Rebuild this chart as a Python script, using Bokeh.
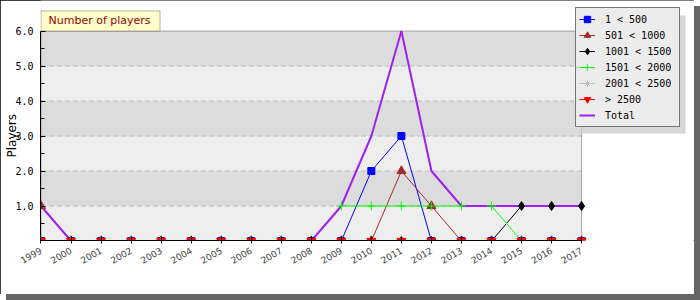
import math
from bokeh.plotting import figure
from bokeh.models import (Range1d, FixedTicker, PrintfTickFormatter, Legend, LegendItem,
                          BoxAnnotation, Label)
from bokeh.embed import file_html
from bokeh.resources import INLINE

years = list(range(1999, 2018))
s_lt500 = [0, 0, 0, 0, 0, 0, 0, 0, 0, 0, 0, 2, 3, 0, 0, 0, 0, 0, 0]
s_501_1000 = [1, 0, 0, 0, 0, 0, 0, 0, 0, 0, 0, 0, 2, 1, 0, 0, 0, 0, 0]
s_1001_1500 = [0, 0, 0, 0, 0, 0, 0, 0, 0, 0, 0, 0, 0, 0, 0, 0, 1, 1, 1]
s_1501_2000 = [0, 0, 0, 0, 0, 0, 0, 0, 0, 0, 1, 1, 1, 1, 1, 1, 0, 0, 0]
s_2001_2500 = [0] * 19
s_gt2500 = [0] * 19
total = [1, 0, 0, 0, 0, 0, 0, 0, 0, 0, 1, 3, 6, 2, 1, 1, 1, 1, 1]

series_labels = ["1 < 500", "501 < 1000", "1001 < 1500", "1501 < 2000", "2001 < 2500", "> 2500"]
series_values = [s_lt500, s_501_1000, s_1001_1500, s_1501_2000, s_2001_2500, s_gt2500]
series_colors = ["#0000ff", "#a52a2a", "#000000", "#00ff00", "#bbbbbb", "#ff0000"]
series_markers = ["square", "triangle", "diamond", "cross", "asterisk", "inverted_triangle"]
series_sizes = [7, 9, 9, 9, 9, 9]
y_ticks = [1, 2, 3, 4, 5, 6]
y_minor = [0.5, 1.5, 2.5, 3.5, 4.5, 5.5]
band_edges = [(1, 2), (3, 4), (5, 6)]

X0, X1, Y0, Y1 = years[0], years[-1], 0, 6

# layout (pixels): plot area 40..581 x 30..240 inside a 694x294 canvas
W, H = 694, 294
PL, PR, PT, PB = 40, 581, 30, 240
xpx = (PR - PL) / (X1 - X0)
ypx = (PB - PT) / (Y1 - Y0)
# half-pixel shift so that horizontal/vertical lines land on pixel centres
x_start = X0 - 0.5 / xpx
y_start = Y0 + 0.5 / ypx
x_end = X1 + (W - PR) / xpx
y_end = Y1 + PT / ypx + 0.5 / ypx

p = figure(width=W, height=H, output_backend="svg", toolbar_location=None,
           x_range=Range1d(x_start, x_end), y_range=Range1d(y_start, y_end),
           min_border_left=PL, min_border_right=0, min_border_top=0, min_border_bottom=H - PB)
p.styles = {"outline": "1px solid black", "outline-offset": "-1px",
            "box-shadow": "6px 6px 0px 0px #666666"}
p.border_fill_color = "white"
p.background_fill_color = "white"
p.outline_line_color = None
p.xgrid.visible = False
p.ygrid.visible = False

# plot-area background bands
p.add_layout(BoxAnnotation(left=X0, right=X1, bottom=Y0, top=Y1, fill_color="#eeeeee", fill_alpha=1,
                           line_color=None, level="underlay"))
for lo, hi in band_edges:
    p.add_layout(BoxAnnotation(left=X0, right=X1, bottom=lo, top=hi, fill_color="#dcdcdc", fill_alpha=1,
                               line_color=None, level="underlay"))
# dashed grid lines
gy = y_ticks[:-1]
p.segment(x0=[X0] * len(gy), x1=[X1] * len(gy), y0=gy, y1=gy, line_color="#bbbbbb",
          line_dash="5 3", line_width=1)

# series lines, total line, then markers
line_rs = []
for vals, col in zip(series_values, series_colors):
    line_rs.append(p.line(years, vals, line_color=col, line_width=1))
total_r = p.line(years, total, line_color="#a020f0", line_width=2)
mark_rs = []
for vals, col, mk, sz in zip(series_values, series_colors, series_markers, series_sizes):
    mark_rs.append(p.scatter(years, vals, marker=mk, size=sz, fill_color=col, line_color=col))

# plot-area outline
p.add_layout(BoxAnnotation(left=X0, right=X1, bottom=Y0, top=Y1, fill_alpha=0, fill_color=None,
                           line_color="black", line_width=1))

# axes
yax = p.yaxis[0]
yax.bounds = (Y0, Y1)
yax.ticker = FixedTicker(ticks=y_ticks, minor_ticks=y_minor)
yax.formatter = PrintfTickFormatter(format="%.1f")
yax.major_label_text_font = "DejaVu Sans Mono"
yax.major_label_text_font_size = "10px"
yax.major_label_text_color = "black"
yax.major_tick_in = 5
yax.major_tick_out = 0
yax.minor_tick_in = 4
yax.minor_tick_out = 0
yax.major_label_standoff = 7
yax.axis_label = "Players" + "\u00a0" * 8
yax.axis_label_text_font = "DejaVu Sans"
yax.axis_label_text_font_size = "12px"
yax.axis_label_text_font_style = "normal"
yax.axis_label_text_color = "black"
yax.axis_label_standoff = -7
yax.axis_line_color = "black"

xax = p.xaxis[0]
xax.bounds = (X0, X1)
xax.ticker = FixedTicker(ticks=years)
xax.formatter = PrintfTickFormatter(format="%d")
xax.major_label_orientation = math.pi / 6
xax.major_label_text_font = "DejaVu Sans"
xax.major_label_text_font_size = "9px"
xax.major_label_text_color = "#444444"
xax.major_tick_in = 4
xax.major_tick_out = 3
xax.minor_tick_line_color = None
xax.major_label_standoff = 6
xax.axis_line_color = "black"


def cbox(l, t, r, b, **kw):
    return BoxAnnotation(left=l, right=r, top=t, bottom=b, left_units="canvas", right_units="canvas",
                         top_units="canvas", bottom_units="canvas", **kw)


# title tab
p.add_layout(cbox(40.5, 10.5, 159.5, 30.5, fill_color="#ffffcc", fill_alpha=1, line_color="black", line_width=1))
p.add_layout(Label(x=8, y=PB - 20, x_units="screen", y_units="screen", text="Number of players",
                   text_font="DejaVu Sans", text_font_size="11px", text_color="#990000",
                   text_baseline="middle", text_align="left"))

# legend shadow + legend
p.add_layout(cbox(581, 15, 685, 133, fill_color="#d6d6d6", fill_alpha=1, line_color=None))
items = [LegendItem(label=lab, renderers=[lr, mr]) for lab, lr, mr in zip(series_labels, line_rs, mark_rs)]
items.append(LegendItem(label="Total", renderers=[total_r]))
legend = Legend(items=items, location=(535, 113), orientation="vertical",
                padding=3, margin=0, spacing=0, glyph_width=16, glyph_height=16, label_height=16,
                label_standoff=10, label_width=71,
                label_text_font="DejaVu Sans Mono", label_text_font_size="10px", label_text_color="black",
                background_fill_color="#ececec", background_fill_alpha=1,
                border_line_color="black", border_line_width=1)
p.add_layout(legend, "center")

open("out.html", "w").write(file_html(p, INLINE))
